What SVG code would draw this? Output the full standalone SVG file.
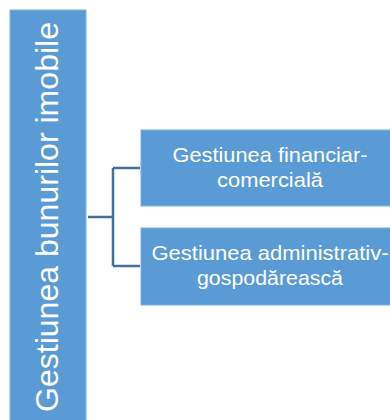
<svg xmlns="http://www.w3.org/2000/svg" width="390" height="420" viewBox="0 0 390 420">
<style>
.box{fill:#5B9BD5;stroke:#7EB0E0;stroke-width:1}
.t{fill:#fff;font-family:"Liberation Sans",Arial,sans-serif;text-anchor:middle}
.c{fill:none;stroke:#41719C;stroke-width:2.5}
</style>
<rect width="390" height="420" fill="#fff"/>
<g id="root">
<rect class="box" x="10" y="10" width="76" height="420"/>
<text class="t" transform="translate(58,217) rotate(-90)" font-size="32" textLength="390" lengthAdjust="spacingAndGlyphs">Gestiunea bunurilor imobile</text>
</g>
<g id="connectors">
<path class="c" d="M88,217 H113 M113,168 V266 M113,168 H140 M113,266 H140"/>
</g>
<g id="n1">
<rect class="box" x="141" y="130" width="260" height="76"/>
<text class="t" x="270" y="162" font-size="21" textLength="195" lengthAdjust="spacingAndGlyphs">Gestiunea financiar-</text>
<text class="t" x="270" y="187" font-size="21" textLength="106" lengthAdjust="spacingAndGlyphs">comercială</text>
</g>
<g id="n2">
<rect class="box" x="141" y="228" width="260" height="77"/>
<text class="t" x="270" y="260" font-size="21" textLength="237" lengthAdjust="spacingAndGlyphs">Gestiunea administrativ-</text>
<text class="t" x="270" y="285" font-size="21" textLength="146" lengthAdjust="spacingAndGlyphs">gospodărească</text>
</g>
</svg>
